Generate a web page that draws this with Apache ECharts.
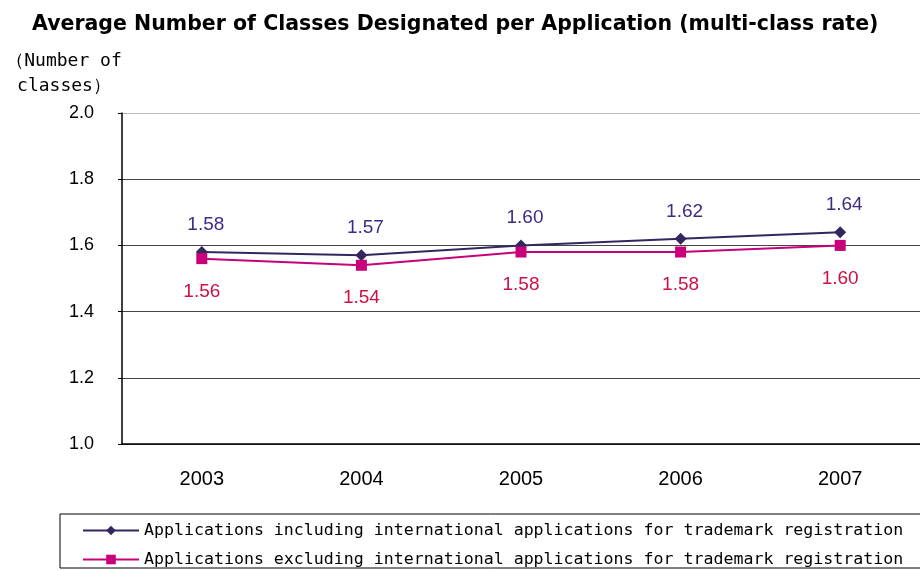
<!DOCTYPE html>
<html>
<head>
<meta charset="utf-8">
<script src="https://cdn.jsdelivr.net/npm/echarts@6/dist/echarts.min.js"></script>
<style>
html,body{margin:0;padding:0;background:#fff;}
#main{width:920px;height:571px;}
</style>
</head>
<body>
<div id="main"></div>
<script>
// multi-class rate
var years = ['2003', '2004', '2005', '2006', '2007'];
var seriesNames = [
	'Applications including international applications for trademark registration',
	'Applications excluding international applications for trademark registration'
];
var inclIntl = [1.58, 1.57, 1.60, 1.62, 1.64];
var exclIntl = [1.56, 1.54, 1.58, 1.58, 1.60];
var yTicks = [1.0, 1.2, 1.4, 1.6, 1.8, 2.0];

(function(){
	var myChart = echarts.init(document.getElementById('main'));
	var option = {
		animation: false,
		title: {
			text: 'Average Number of Classes Designated per Application (multi-class rate)',
			left: 27,
			top: 9,
			textStyle: {
				fontFamily: 'DejaVu Sans',
				fontSize: 20.5,
				fontWeight: 'bold',
				color: '#000'
			}
		},
		legend: {
			orient: 'vertical',
			left: 60,
			top: 514,
			height: 120,
			padding: [8, 60, 0, 22],
			itemGap: 12,
			itemWidth: 56,
			itemHeight: 12,
			borderColor: '#000',
			borderWidth: 1,
			textStyle: {
				fontFamily: 'DejaVu Sans Mono',
				fontSize: 16.6,
				color: '#000'
			},
			data: seriesNames
		},
		grid: {
			left: 122,
			top: 113,
			width: 800,
			height: 331
		},
		xAxis: {
			type: 'category',
			boundaryGap: true,
			data: years,
			axisLine: { lineStyle: { color: '#000', width: 1.5 } },
			axisTick: { inside: true, length: 6, lineStyle: { color: '#000' } },
			axisLabel: {
				margin: 25,
				fontFamily: 'Liberation Sans',
				fontSize: 20,
				color: '#000'
			}
		},
		yAxis: {
			type: 'value',
			min: yTicks[0],
			max: yTicks[yTicks.length - 1],
			interval: 0.2,
			name: '（Number of\nclasses）',
			nameLocation: 'end',
			nameGap: 14,
			nameTextStyle: {
				fontFamily: 'DejaVu Sans Mono',
				fontSize: 18,
				color: '#000',
				align: 'center',
				padding: [0, 116, 0, 0],
				lineHeight: 25
			},
			axisLine: { show: true, lineStyle: { color: '#000', width: 1.5 } },
			axisTick: { show: true, length: 4, lineStyle: { color: '#000' } },
			axisLabel: {
				margin: 28,
				fontFamily: 'Liberation Sans',
				fontSize: 18,
				color: '#000',
				formatter: function(v){ return v.toFixed(1); }
			},
			splitLine: {
				lineStyle: { color: ['#444', '#444', '#444', '#444', '#444', '#bbb'], width: 1 }
			}
		},
		series: [
			{
				name: seriesNames[0],
				type: 'line',
				data: inclIntl,
				symbol: 'diamond',
				symbolSize: 12,
				itemStyle: { color: '#33275e' },
				lineStyle: { color: '#33275e', width: 2 },
				label: {
					show: true,
					position: 'top',
					distance: 12,
					offset: [4, 0],
					fontFamily: 'Liberation Sans',
					fontSize: 19,
					color: '#3f2a85',
					formatter: function(p){ return p.value.toFixed(2); }
				}
			},
			{
				name: seriesNames[1],
				type: 'line',
				data: exclIntl,
				symbol: 'rect',
				symbolSize: 11,
				itemStyle: { color: '#c8007a' },
				lineStyle: { color: '#c8007a', width: 2 },
				label: {
					show: true,
					position: 'bottom',
					distance: 18,
					fontFamily: 'Liberation Sans',
					fontSize: 19,
					color: '#cc1144',
					formatter: function(p){ return p.value.toFixed(2); }
				}
			}
		]
	};
	myChart.setOption(option);
})();
</script>
</body>
</html>
